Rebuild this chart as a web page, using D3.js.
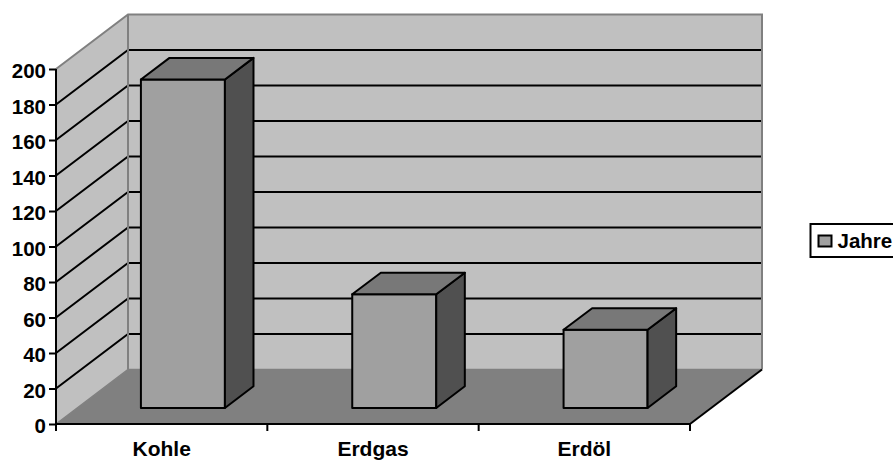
<!DOCTYPE html>
<html><head><meta charset="utf-8">
<script src="https://cdn.jsdelivr.net/npm/d3@7"></script>
<style>html,body{margin:0;padding:0;background:#fff}svg{display:block}text{font-family:"Liberation Sans",Arial,sans-serif;font-weight:bold;font-size:20.5px;fill:#000}</style>
</head><body><svg id="c" width="893" height="461"></svg>
<script>
const categories = ["Kohle","Erdgas","Erdöl"];
const values = [185,64,44];
const seriesName = "Jahre";
const yTicks = [0,20,40,60,80,100,120,140,160,180,200];

const svg = d3.select("#c");
const x = d3.scaleBand().domain(categories).range([56,690]).paddingInner(0).paddingOuter(0);
const y = d3.scaleLinear().domain([0,200]).range([424,69]);
const DX = 72, DY = -54.5;
const dep = (px,py,t)=>[px+DX*t, py+DY*t];
const poly = (pts,fill,stroke,sw)=>svg.append("polygon").attr("points",pts.map(p=>p.join(",")).join(" "))
  .attr("fill",fill).attr("stroke",stroke||"none").attr("stroke-width",sw||0).attr("stroke-linejoin","round");
const [x0,x1] = x.range(), y0=y(0), yT=y(200);

// back wall, side wall, floor
poly([dep(x0,yT,1),dep(x1,yT,1),dep(x1,y0,1),dep(x0,y0,1)],"#c0c0c0");
poly([[x0,yT],dep(x0,yT,1),dep(x0,y0,1),[x0,y0]],"#c0c0c0");
poly([[x0,y0],dep(x0,y0,1),dep(x1,y0,1),[x1,y0]],"#808080");

// gridlines
yTicks.filter(v=>v>0&&v<200).forEach(v=>{
  const a=[x0,y(v)],b=dep(x0,y(v),1),c=dep(x1,y(v),1);
  svg.append("polyline").attr("points",[a,b,c].map(p=>p.join(",")).join(" "))
    .attr("fill","none").attr("stroke","#000").attr("stroke-width",2);
});
// wall outlines
const wallCol="#808080";
svg.append("polyline").attr("points",[[x0,yT],dep(x0,yT,1),dep(x1,yT,1),dep(x1,y0,1)].map(p=>p.join(",")).join(" "))
  .attr("fill","none").attr("stroke",wallCol).attr("stroke-width",2);
svg.append("line").attr("x1",dep(x0,yT,1)[0]).attr("y1",dep(x0,yT,1)[1]).attr("x2",dep(x0,y0,1)[0]).attr("y2",dep(x0,y0,1)[1]).attr("stroke",wallCol).attr("stroke-width",2);
svg.append("polyline").attr("points",[[x0,y0],dep(x0,y0,1),dep(x1,y0,1)].map(p=>p.join(",")).join(" "))
  .attr("fill","none").attr("stroke",wallCol).attr("stroke-width",1.5);

// bars
const barW = 84, t0 = 0.295, t1 = 0.692;
categories.forEach((c,i)=>{
  const cx = x(c)+x.bandwidth()/2;
  const L=cx-barW/2, R=cx+barW/2, v=values[i];
  const F=(px,val,t)=>dep(px,y(val),t);
  poly([F(L,v,t0),F(R,v,t0),F(R,0,t0),F(L,0,t0)],"#a0a0a0","#000",2);
  poly([F(R,v,t0),F(R,v,t1),F(R,0,t1),F(R,0,t0)],"#505050","#000",2);
  poly([F(L,v,t0),F(L,v,t1),F(R,v,t1),F(R,v,t0)],"#787878","#000",2);
});

// axes: front floor edge, y axis, right floor edge
const line=(a,b,w)=>svg.append("line").attr("x1",a[0]).attr("y1",a[1]).attr("x2",b[0]).attr("y2",b[1]).attr("stroke","#000").attr("stroke-width",w||2);
line([x1,y0],dep(x1,y0,1),2);

const yAxis = svg.append("g").attr("transform",`translate(${x0},0)`)
  .call(d3.axisLeft(y).tickValues(yTicks).tickSize(7).tickPadding(3).tickFormat(d3.format("d")));
yAxis.selectAll("line,path").attr("stroke","#000").attr("stroke-width",2);
yAxis.select("path").attr("d",`M0,${yT}V${y0}`);
yAxis.selectAll("text").attr("style","font-size:20.5px;font-family:'Liberation Sans';font-weight:bold").attr("fill","#000").attr("dy","0.42em");

const xAxis = svg.append("g").attr("transform",`translate(0,${y0})`)
  .call(d3.axisBottom(x).tickSize(0).tickPadding(17));
xAxis.select("path").attr("d",`M${x0},0H${x1}`).attr("stroke","#000").attr("stroke-width",2);
xAxis.selectAll("text").attr("style","font-size:21px;font-family:'Liberation Sans';font-weight:bold").attr("fill","#000");
const xt = [...categories.map(c=>x(c)),x1];
svg.selectAll("line.xt").data(xt).join("line").attr("class","xt")
  .attr("x1",d=>d).attr("x2",d=>d).attr("y1",y0).attr("y2",y0+7).attr("stroke","#000").attr("stroke-width",2);

// legend
svg.append("rect").attr("x",810.5).attr("y",224).attr("width",84).attr("height",33).attr("fill","#fff").attr("stroke","#000").attr("stroke-width",2);
svg.append("rect").attr("x",818.5).attr("y",235.5).attr("width",13).attr("height",11).attr("fill","#a0a0a0").attr("stroke","#000").attr("stroke-width",2);
svg.append("text").attr("x",837.5).attr("y",248).text(seriesName);
</script></body></html>
